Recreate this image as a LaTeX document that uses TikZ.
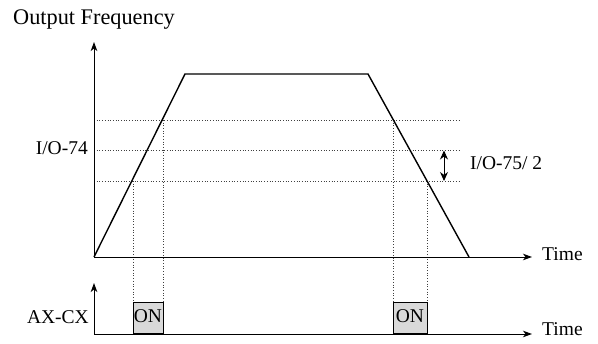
\documentclass[tikz,border=0pt]{standalone}
\usepackage{fontspec}
\setmainfont{Liberation Serif}
\usetikzlibrary{arrows.meta}
\begin{document}
\begin{tikzpicture}[x=1pt,y=-1pt,
  axis/.style={line width=0.9pt,-{Stealth[length=9pt,width=6.5pt,inset=2.5pt]}},
  ramp/.style={line width=1.4pt,line join=miter},
  guide/.style={line width=0.7pt,dotted,black!75},
  lbl/.style={inner sep=0pt,anchor=base west,font=\fontsize{19.5}{22}\selectfont},
  onbox/.style={draw,line width=0.8pt,fill=black!15,inner sep=0pt,minimum width=30pt,minimum height=31pt,anchor=south west}
]
\useasboundingbox (0,0) rectangle (598,344);
% coordinates
\coordinate (O) at (94,257);
\coordinate (Ytop) at (94,42);
\coordinate (Xend) at (532,257);
\coordinate (A) at (185,74);
\coordinate (B) at (368,74);
\coordinate (C) at (469,257);
\coordinate (O2) at (94,334);
\coordinate (Y2top) at (94,283);
\coordinate (X2end) at (532,334);
% guide lines
\coordinate (h1s) at (94,120); \coordinate (h1e) at (461,120);
\coordinate (h2s) at (94,150.5); \coordinate (h2e) at (461,150.5);
\coordinate (h3s) at (94,181); \coordinate (h3e) at (461,181);
\draw[guide] (h1s) -- (h1e);
\draw[guide] (h2s) -- (h2e);
\draw[guide] (h3s) -- (h3e);
\coordinate (v1t) at (133,181); \coordinate (v1b) at (133,303);
\coordinate (v2t) at (163,120); \coordinate (v2b) at (163,303);
\coordinate (v3t) at (393,120); \coordinate (v3b) at (393,303);
\coordinate (v4t) at (427,181); \coordinate (v4b) at (427,303);
\draw[guide] (v1t) -- (v1b);
\draw[guide] (v2t) -- (v2b);
\draw[guide] (v3t) -- (v3b);
\draw[guide] (v4t) -- (v4b);
% axes
\draw[axis] (O) -- (Ytop);
\draw[axis] (O) -- (Xend);
\draw[axis] (O2) -- (Y2top);
\draw[axis] (O2) -- (X2end);
% trapezoid
\draw[ramp] (O) -- (A) -- (B) -- (C);
% double arrow
\coordinate (da1) at (444,150.5); \coordinate (da2) at (444,181);
\draw[line width=0.9pt,{Stealth[length=9pt,width=8pt]}-{Stealth[length=9pt,width=8pt]}] (da1) -- (da2);
% ON boxes
\node[onbox] (on1) at (133,334) {};
\node[onbox,minimum width=34pt] (on2) at (393,334) {};
\node[lbl,anchor=base] (on1t) at (148,323) {ON};
\node[lbl,anchor=base] (on2t) at (410,323) {ON};
% labels
\node[lbl,font=\fontsize{22.3}{25}\selectfont] (title) at (13,24.5) {Output Frequency};
\node[lbl,anchor=base east] (io74) at (88,155) {I/O-74};
\node[lbl] (io75) at (470,170) {I/O-75/ 2};
\node[lbl] (time1) at (542,261) {Time};
\node[lbl] (time2) at (542,336) {Time};
\node[lbl,anchor=base east] (axcx) at (89,324) {AX-CX};
\end{tikzpicture}
\end{document}
